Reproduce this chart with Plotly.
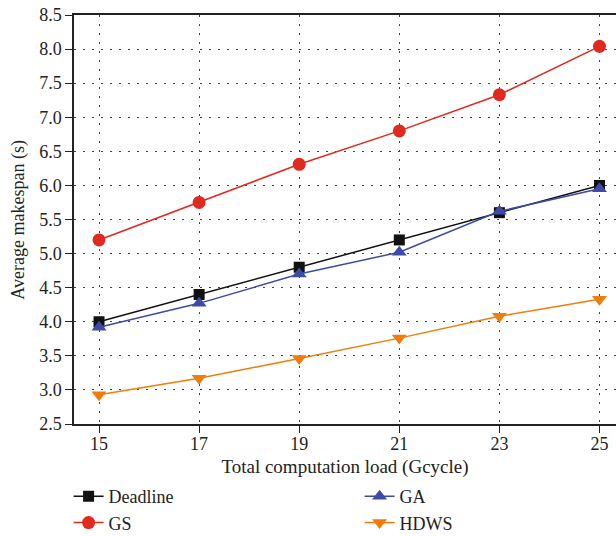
import plotly.graph_objects as go

loads = [15, 17, 19, 21, 23, 25]
deadline = [4.0, 4.4, 4.8, 5.2, 5.6, 6.0]
gs = [5.2, 5.75, 6.31, 6.8, 7.33, 8.04]
ga = [3.92, 4.27, 4.7, 5.02, 5.62, 5.95]
hdws = [2.93, 3.17, 3.46, 3.76, 4.08, 4.33]

series = [
    ("Deadline", deadline, "#111111", "square", 11),
    ("GA", ga, "#3d4aa8", "triangle-up", 13),
    ("GS", gs, "#e0291f", "circle", 13),
    ("HDWS", hdws, "#f07c0a", "triangle-down", 13),
]

fig = go.Figure()
for name, vals, color, sym, size in series:
    fig.add_trace(go.Scatter(
        x=loads, y=vals, name=name, mode="lines+markers",
        line=dict(color=color, width=1.5),
        marker=dict(symbol=sym, size=size, color=color),
    ))

font = "Liberation Serif"
fig.update_layout(
    width=616, height=536,
    margin=dict(l=74, r=0, t=15, b=112, autoexpand=False),
    plot_bgcolor="white", paper_bgcolor="white",
    font=dict(family=font, size=18, color="#222"),
    showlegend=True,
    legend=dict(orientation="h", x=-0.01, xanchor="left", y=-0.132, yanchor="top",
                entrywidth=246, entrywidthmode="pixels",
                font=dict(family=font, size=18), tracegroupgap=0,
                itemwidth=30, bgcolor="rgba(0,0,0,0)"),
    xaxis=dict(
        range=[14.5, 25.33], tickvals=loads, ticktext=[str(v) for v in loads],
        showline=True, linecolor="#222", linewidth=1.5, mirror=True,
        ticks="outside", ticklen=7, tickcolor="#222",
        showgrid=True, gridcolor="#444", griddash="2px,7px", gridwidth=1,
        zeroline=False, tickfont=dict(size=18), ticklabelstandoff=-4,
        title=dict(text="Total computation load (Gcycle)", font=dict(family=font, size=19), standoff=6),
    ),
    yaxis=dict(
        range=[2.5, 8.5], dtick=0.5, tickformat=".1f",
        showline=True, linecolor="#222", linewidth=1.5,
        ticks="outside", ticklen=7, tickcolor="#222",
        showgrid=True, gridcolor="#444", griddash="2px,7px", gridwidth=1,
        zeroline=False, tickfont=dict(size=18),
    ),
    annotations=[dict(
        text="Average makespan (s)", textangle=-90, showarrow=False,
        xref="paper", yref="paper", x=-0.103, y=0.5, xanchor="center", yanchor="middle",
        font=dict(family=font, size=18),
    )],
)

fig.write_html("out.html", config={"displayModeBar": False},
               post_script="document.body.style.margin='0';document.body.style.overflow='hidden';")
